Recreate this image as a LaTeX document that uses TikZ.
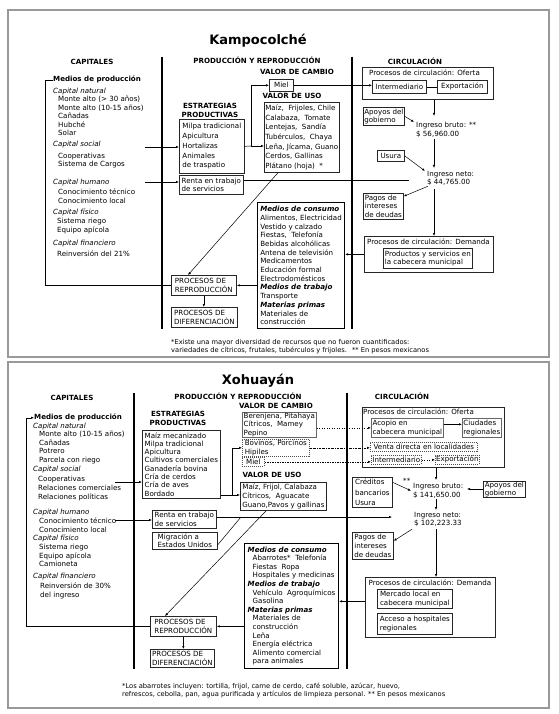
\documentclass[tikz,border=0pt]{standalone}
\usepackage{fontspec}
\setmainfont{DejaVu Sans}
\usetikzlibrary{arrows.meta}
\newcommand\fsz[1]{\fontsize{7.1}{#1}\selectfont}
\newcommand\hdf{\fontsize{7.1}{9}\selectfont\bfseries}
\newcommand\bi[1]{\textbf{\textit{#1}}}
\tikzset{
  txt/.style={inner sep=0pt, align=left, font=\fsz{8.6}, anchor=north west},
  hd/.style={inner sep=0pt, align=center, font=\hdf},
  ttl/.style={inner sep=0pt, font=\fontsize{13}{15}\selectfont\bfseries},
  bx/.style={draw=black!85, line width=0.7pt, inner sep=1pt, align=left, font=\fsz{8.6}, anchor=north west},
  frm/.style={draw=black!85, line width=0.7pt, inner sep=0pt, anchor=north west},
  dotbox/.style={draw=black!70, dash pattern=on 1pt off 1pt},
  arr/.style={-{Latex[length=3pt,width=2.4pt]}, line width=0.5pt},
  ln/.style={line width=0.5pt},
  vbar/.style={line width=2.2pt},
  panel/.style={draw=black!40, line width=1.6pt},
  fnote/.style={inner sep=0pt, align=left, anchor=north west, font=\fontsize{6.7}{8.4}\selectfont}
}
\begin{document}
\begin{tikzpicture}[x=1pt,y=-1pt]
\useasboundingbox (0,0) rectangle (558,714);

% ================= TOP PANEL =================
\draw[panel] (8,10) rectangle (549,357);
\node[ttl] (t1) at (258,41) {Kampocolché};
\node[hd] (cap1) at (92,62) {CAPITALES};
\node[hd] (pr1) at (257,60) {PRODUCCIÓN Y REPRODUCCIÓN};
\node[hd] (ci1) at (415,61) {CIRCULACIÓN};
\draw[vbar] (162,57) -- (162,329);
\draw[vbar] (352,57) -- (352,329);

% capitales
\node[txt, font=\fsz{8.6}\bfseries] (mp1) at (53,76) {Medios de producción};
\node[txt] (cn1h) at (53,88) {\itshape Capital natural};
\node[txt, font=\fsz{8.5}] (cn1) at (58,96) {Monte alto (> 30 años)\\Monte alto (10-15 años)\\Cañadas\\Hubché\\Solar};
\node[txt] (cs1h) at (53,141) {\itshape Capital social};
\node[txt, font=\fsz{8.3}] (cs1) at (58,153) {Cooperativas\\Sistema de Cargos};
\node[txt] (ch1h) at (53,179) {\itshape Capital humano};
\node[txt, font=\fsz{9}] (ch1) at (58,189) {Conocimiento técnico\\Conocimiento local};
\node[txt] (cf1h) at (53,209) {\itshape Capital físico};
\node[txt, font=\fsz{9}] (cf1) at (57,218) {Sistema riego\\Equipo apícola};
\node[txt] (cfi1h) at (53,240) {\itshape Capital financiero};
\node[txt] (cfi1) at (57,251) {Reinversión del 21\%};

% producción
\node[hd] (vc1t) at (297,72) {VALOR DE CAMBIO};
\node[bx, minimum width=24, minimum height=12] (miel1) at (269,79) {Miel};
\node[hd] (vu1t) at (292,96) {VALOR DE USO};
\node[bx, minimum width=74, minimum height=70, font=\fsz{9.6}] (vu1) at (264,102)
  {Maíz, \ Frijoles, Chile\\Calabaza, \ Tomate\\Lentejas, \ Sandía\\Tubérculos, \ Chaya\\Leña, Jícama, Guano\\Cerdos, Gallinas\\Plátano (hoja) \ *};
\node[hd] (es1t) at (210,110.5) {ESTRATEGIAS\\PRODUCTIVAS};
\node[bx, minimum width=65, minimum height=54, font=\fsz{9.8}] (estr1) at (179,119)
  {Milpa tradicional\\Apicultura\\Hortalizas\\Animales\\de traspatio};
\node[bx, minimum width=64, minimum height=19] (renta1) at (179,175) {Renta en trabajo\\de servicios};
\node[bx, minimum width=65, minimum height=20] (repro1) at (171,275) {PROCESOS DE\\REPRODUCCIÓN};
\node[bx, minimum width=66, minimum height=20] (difer1) at (171,307) {PROCESOS DE\\DIFERENCIACIÓN};
\node[bx, draw=black, line width=1.1pt, minimum width=87, minimum height=126, font=\fsz{8.7}] (med1) at (257,202)
  {\bi{Medios de consumo}\\Alimentos, Electricidad\\Vestido y calzado\\Fiestas, \ Telefonía\\Bebidas alcohólicas\\Antena de televisión\\Medicamentos\\Educación formal\\Electrodomésticos\\\bi{Medios de trabajo}\\Transporte\\\bi{Materias primas}\\Materiales de\\construcción};

% circulación
\node[frm, minimum width=131, minimum height=32] (of1) at (362,67) {};
\node[txt] (of1t) at (369,70) {Procesos de circulación: Oferta};
\node[bx, minimum width=54, minimum height=13] (int1) at (372,80) {Intermediario};
\node[bx, minimum width=50, minimum height=13] (exp1) at (437,80) {Exportación};
\node[bx, minimum width=41, minimum height=18] (apo1) at (363,107) {Apoyos del\\gobierno};
\node[txt] (ibt1) at (416,122) {Ingreso bruto: **\\\$ 56,960.00};
\node[bx, minimum width=27, minimum height=11] (usu1) at (377,150) {Usura};
\node[txt] (ineto1) at (427,171) {Ingreso neto:\\\$ 44,765.00};
\node[bx, minimum width=40, minimum height=26] (pag1) at (363,193) {Pagos de\\intereses\\de deudas};
\node[frm, minimum width=129, minimum height=36] (dem1) at (364,236) {};
\node[txt, anchor=north] (dem1t) at (428.5,239) {Procesos de circulación: Demanda};
\node[bx, minimum width=89, minimum height=20] (prod1) at (383,248) {Productos y servicios en\\la cabecera municipal};

% connectors top
\draw[ln] (mp1.west) -- ++(-8,0) |- (repro1.west);
\coordinate (a1s) at (145,147);
\draw[arr] (a1s) -- (a1s -| estr1.west);
\coordinate (a2s) at (145,182);
\draw[arr] (a2s) -- (a2s -| renta1.west);
\coordinate (sp1) at (251,146);
\draw[ln] (estr1.east) -- (sp1);
\draw[arr] (sp1) |- (miel1.west);
\draw[arr] (sp1) -- (sp1 -| vu1.west);
\draw[arr] (miel1.east) -- (miel1.east -| int1.west);
\draw[ln] (int1) -- (exp1);
\coordinate (re1) at (409,180);
\draw[ln] (renta1.east |- re1) -- (re1);
\coordinate (ib1) at (434,116);
\draw[arr] (of1.south -| ib1) -- (ib1);
\draw[arr] (apo1.east) -- ([xshift=-2]ibt1.north west);
\draw[arr, shorten <=2pt, shorten >=3pt] (ibt1.south -| ib1) -- (ineto1.north -| ib1);
\draw[arr] (usu1.east) -- ([xshift=-2]ineto1.north west);
\draw[arr] ([xshift=1]ineto1.south west) -- ([yshift=10]pag1.east);
\draw[arr, shorten <=3pt] (ineto1.south -| ib1) -- (dem1.north -| ib1);
\draw[arr] (dem1.west) -- (dem1.west -| med1.east);
\draw[arr] ([xshift=14]vu1.south west) -- ([xshift=17]repro1.north west);
\draw[arr, line width=0.8pt] (med1.west |- repro1.east) -- (repro1.east);
\draw[arr] (repro1.south) -- (repro1.south |- difer1.north);

\node[fnote] (fn1) at (171,339) {*Existe una mayor diversidad de recursos que no fueron cuantificados:\\variedades de cítricos, frutales, tubérculos y frijoles. \ ** En pesos mexicanos};

% ================= BOTTOM PANEL =================
\draw[panel] (8,362) rectangle (549,708);
\node[ttl] (t2) at (258,381) {Xohuayán};
\node[hd] (cap2) at (72,398) {CAPITALES};
\node[hd] (pr2) at (238,396) {PRODUCCIÓN Y REPRODUCCIÓN};
\node[hd] (ci2) at (402,396) {CIRCULACIÓN};
\draw[vbar] (134,393) -- (134,669);
\draw[vbar] (347,393) -- (347,669);

% capitales
\node[txt, font=\fsz{8.6}\bfseries] (mp2) at (34,414) {Medios de producción};
\node[txt] (cn2h) at (33,423) {\itshape Capital natural};
\node[txt, font=\fsz{8.6}] (cn2) at (39,431) {Monte alto (10-15 años)\\Cañadas\\Potrero\\Parcela con riego};
\node[txt] (cs2h) at (33,466) {\itshape Capital social};
\node[txt, font=\fsz{9}] (cs2) at (38,476) {Cooperativas\\Relaciones comerciales\\Relaciones políticas};
\node[txt] (ch2h) at (33,509) {\itshape Capital humano};
\node[txt, font=\fsz{9}] (ch2) at (39,518) {Conocimiento técnico\\Conocimiento local};
\node[txt] (cf2h) at (33,535) {\itshape Capital físico};
\node[txt, font=\fsz{8.5}] (cf2) at (39,544) {Sistema riego\\Equipo apícola\\Camioneta};
\node[txt] (cfi2h) at (33,573) {\itshape Capital financiero};
\node[txt, font=\fsz{9}] (cfi2) at (40,583) {Reinversión de 30\%\\del ingreso};

% producción
\node[hd] (vc2t) at (276,406) {VALOR DE CAMBIO};
\node[hd] (es2t) at (178,418.5) {ESTRATEGIAS\\PRODUCTIVAS};
\node[bx, minimum width=78, minimum height=68, font=\fsz{8.3}] (estr2) at (142,430)
  {Maíz mecanizado\\Milpa tradicional\\Apicultura\\Cultivos comerciales\\Ganadería bovina\\Cría de cerdos\\Cría de aves\\Bordado};
\node[bx, draw=black!60, inner sep=0.5pt, minimum width=74, minimum height=25, font=\fsz{8.5}] (vc21) at (242,412)
  {Berenjena, Pitahaya\\Cítricos, \ Mamey\\Pepino};
\node[bx, dotbox, inner sep=0.5pt, minimum width=67, minimum height=17, font=\fsz{8.5}] (vc22) at (242,439)
  {Bovinos, Porcinos\\Hipiles};
\node[bx, dotbox, inner sep=0.5pt, minimum width=22, minimum height=9] (vc23) at (242,457) {Miel};
\node[hd] (vu2t) at (272,475) {VALOR DE USO};
\node[bx, line width=0.9pt, minimum width=86, minimum height=28, font=\fsz{9}] (vu2) at (240,482)
  {Maíz, Frijol, Calabaza\\Cítricos, \ Aguacate\\Guano,Pavos y gallinas};
\node[bx, minimum width=64, minimum height=18] (renta2) at (152,510) {Renta en trabajo\\de servicios};
\node[bx, minimum width=65, minimum height=17] (mig2) at (152,532) {Migración a\\Estados Unidos};
\node[bx, minimum width=66, minimum height=20] (repro2) at (150,616) {PROCESOS DE\\REPRODUCCIÓN};
\node[bx, minimum width=64, minimum height=18] (difer2) at (150,649) {PROCESOS DE\\DIFERENCIACIÓN};
\node[bx, draw=black, line width=1.1pt, minimum width=94, minimum height=125, font=\fsz{8.6}] (med2) at (244,543)
  {\bi{Medios de consumo}\\\hspace*{5pt}Abarrotes* \ Telefonía\\\hspace*{5pt}Fiestas \ Ropa\\\hspace*{5pt}Hospitales y medicinas\\\bi{Medios de trabajo}\\\hspace*{5pt}Vehículo \ Agroquímicos\\\hspace*{5pt}Gasolina\\\bi{Materias primas}\\\hspace*{5pt}Materiales de\\\hspace*{5pt}construcción\\\hspace*{5pt}Leña\\\hspace*{5pt}Energía eléctrica\\\hspace*{5pt}Alimento comercial\\\hspace*{5pt}para animales};

% circulación
\node[frm, minimum width=142, minimum height=60] (of2) at (362,407) {};
\node[txt] (of2t) at (363,409) {Procesos de circulación: Oferta};
\node[bx, draw=black!60, minimum width=72, minimum height=19] (aco2) at (371,418) {Acopio en\\cabecera municipal};
\node[bx, draw=black!60, minimum width=39, minimum height=19] (ciu2) at (462,418) {Ciudades\\regionales};
\node[bx, dotbox, inner sep=0.3pt, minimum width=107, minimum height=9] (ven2) at (370,442) {Venta directa en localidades};
\node[bx, dotbox, inner sep=0.3pt, minimum width=50, minimum height=9] (int2) at (371,455) {Intermediario};
\node[bx, dotbox, inner sep=0.3pt, minimum width=44, minimum height=9] (exp2) at (435,455) {Exportación};
\node[txt] (ast2) at (403,478) {**};
\node[txt] (ibt2) at (413,483) {Ingreso bruto:\\\$ 141,650.00};
\node[bx, minimum width=40, minimum height=30, font=\fsz{10.5}] (cre2) at (352,477) {Créditos\\bancarios\\Usura};
\node[bx, inner sep=0.5pt, minimum width=42, minimum height=16] (apo2) at (483,481) {Apoyos del\\gobierno};
\node[txt] (ineto2) at (414,512) {Ingreso neto:\\\$ 102,223.33};
\node[bx, minimum width=41, minimum height=27] (pag2) at (352,532) {Pagos de\\intereses\\de deudas};
\node[frm, minimum width=130, minimum height=60] (dem2) at (365,577) {};
\node[txt, anchor=north] (dem2t) at (430,580) {Procesos de circulación: Demanda};
\node[bx, minimum width=75, minimum height=19] (mer2) at (377,589) {Mercado local en\\cabecera municipal};
\node[bx, minimum width=75, minimum height=21] (acc2) at (377,613) {Acceso a hospitales\\regionales};

% connectors bottom
\draw[arr] (repro2.west) -| ([xshift=-8]mp2.west) -- (mp2.west);
\coordinate (b1s) at (115,482);
\draw[arr] (b1s) -- (b1s -| estr2.west);
\coordinate (b2s) at (115,520);
\draw[arr] (b2s) -- (b2s -| renta2.west);
\coordinate (sp2) at (232,495);
\draw[ln] (sp2 -| estr2.east) -- (sp2);
\draw[arr] (sp2) |- (vc22.west);
\draw[arr] (sp2) -- (sp2 -| vu2.west);
\draw[arr, dotted] (vc21.east |- aco2.west) -- (aco2.west);
\draw[arr, dash pattern=on 2pt off 1pt on 0.5pt off 1pt] (vc22.east) -- (vc22.east -| ven2.west);
\draw[arr, dash pattern=on 1.5pt off 1pt] (vc23.east) -- (vc23.east -| int2.west);
\draw[arr] ([yshift=3.5]aco2.east) -- ([yshift=3.5]aco2.east -| ciu2.west);
\draw[arr, dotted] (int2) -- (exp2);
\coordinate (re2) at (392,517);
\draw[arr] (renta2.east |- re2) -- (re2);
\coordinate (mj2) at (241,517);
\draw[ln] ([yshift=-4]mig2.east) -- (mj2);
\draw[arr] ([xshift=26]vu2.south west) -- ([xshift=15]repro2.north west);
\draw[arr, line width=0.8pt] (med2.west |- repro2.east) -- (repro2.east);
\draw[arr] (repro2.south) -- (repro2.south |- difer2.north);
\coordinate (ib2) at (436,480);
\draw[arr] (of2.south -| ib2) -- (ib2);
\draw[arr] ([yshift=10]cre2.east) -- ([xshift=-2]ibt2.west);
\coordinate (ap2e) at (467,489);
\draw[arr] (apo2.west |- ap2e) -- (ap2e);
\draw[arr, shorten <=1pt, shorten >=2pt] (ibt2.south -| ib2) -- (ineto2.north -| ib2);
\draw[arr] ([xshift=-2,yshift=-2]ineto2.south west) -- ([yshift=5]pag2.east);
\draw[arr, shorten <=2pt] (ineto2.south -| ib2) -- (dem2.north -| ib2);
\draw[arr] ([yshift=6]dem2.west) -- ([yshift=6]dem2.west -| med2.east);

\node[fnote] (fn2) at (122,683) {*Los abarrotes incluyen: tortilla, frijol, carne de cerdo, café soluble, azúcar, huevo,\\refrescos, cebolla, pan, agua purificada y artículos de limpieza personal. ** En pesos mexicanos};
\end{tikzpicture}
\end{document}
